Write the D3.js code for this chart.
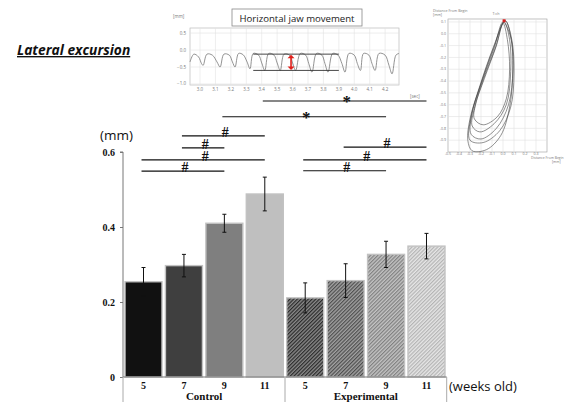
<!DOCTYPE html>
<html>
<head>
<meta charset="utf-8">
<script src="https://cdnjs.cloudflare.com/ajax/libs/d3/7.8.5/d3.min.js"></script>
<style>
  body { margin: 0; background: #fff; }
  svg { display: block; }
</style>
</head>
<body>
<svg class="chart"></svg>
<script>
// main bar chart values
var groups = ["Control", "Experimental"];
var weeks = ["5", "7", "9", "11"];
var controlMean = [0.254, 0.297, 0.410, 0.488];
var controlErr = [0.038, 0.030, 0.024, 0.045];
var expMean = [0.211, 0.257, 0.327, 0.349];
var expErr = [0.040, 0.045, 0.035, 0.034];
var yTicks = [0, 0.2, 0.4, 0.6];

// significance brackets: [from bar, to bar, symbol, height in mm]
var comparisons = [
  [3, 7, "*", 0.736],
  [2, 6, "*", 0.694],
  [1, 3, "#", 0.643],
  [1, 2, "#", 0.611],
  [0, 3, "#", 0.579],
  [0, 2, "#", 0.549],
  [5, 7, "#", 0.613],
  [4, 7, "#", 0.579],
  [4, 6, "#", 0.550]
];

// inset 1: horizontal jaw movement trace [sec, mm]
var jawTrace = [
  [2.935,-0.35],[2.96,-0.12],[2.99,-0.2],[3.01,-0.4],[3.02,-0.45],
  [3.045,-0.12],[3.08,-0.15],[3.11,-0.35],[3.13,-0.5],
  [3.155,-0.12],[3.19,-0.15],[3.21,-0.35],[3.227,-0.5],
  [3.25,-0.1],[3.28,-0.14],[3.305,-0.35],[3.324,-0.55],
  [3.345,-0.1],[3.38,-0.15],[3.40,-0.38],[3.42,-0.6],
  [3.445,-0.1],[3.48,-0.15],[3.50,-0.38],[3.52,-0.6],
  [3.545,-0.12],[3.58,-0.15],[3.60,-0.38],[3.62,-0.6],
  [3.65,-0.1],[3.685,-0.15],[3.705,-0.4],[3.726,-0.65],
  [3.755,-0.1],[3.79,-0.15],[3.81,-0.4],[3.83,-0.65],
  [3.86,-0.1],[3.895,-0.15],[3.92,-0.4],[3.94,-0.65],
  [3.965,-0.1],[4.0,-0.15],[4.02,-0.4],[4.04,-0.6],
  [4.06,-0.1],[4.095,-0.15],[4.115,-0.4],[4.135,-0.6],
  [4.16,-0.1],[4.20,-0.15],[4.225,-0.45],[4.245,-0.7],
  [4.27,-0.15],[4.29,-0.1]
];
var jawTimeTicks = ["3.0","3.1","3.2","3.3","3.4","3.5","3.6","3.7","3.8","3.9","4.0","4.1","4.2"];
var jawValueTicks = [0.5, 0.0, -0.5, -1.0];
var amplitude = {top: -0.12, bottom: -0.6, t0: 3.345, t1: 3.9, arrowT: 3.59};

// inset 2: chewing path loops [x mm, y mm]
var pathLoops = [
  [[0.0,0.09],[0.04,-0.05],[0.06,-0.3],[0.03,-0.55],[-0.05,-0.7],[-0.18,-0.77],[-0.26,-0.72],[-0.25,-0.6],[-0.17,-0.38],[-0.06,-0.1]],
  [[0.01,0.1],[0.06,-0.05],[0.07,-0.32],[0.03,-0.6],[-0.08,-0.76],[-0.21,-0.83],[-0.28,-0.78],[-0.26,-0.63],[-0.18,-0.39],[-0.07,-0.12]],
  [[0.0,0.1],[0.07,-0.03],[0.09,-0.3],[0.05,-0.6],[-0.06,-0.8],[-0.2,-0.89],[-0.29,-0.85],[-0.28,-0.67],[-0.19,-0.4],[-0.08,-0.12]],
  [[0.02,0.11],[0.08,-0.05],[0.1,-0.34],[0.07,-0.62],[-0.03,-0.82],[-0.18,-0.92],[-0.3,-0.9],[-0.29,-0.7],[-0.2,-0.42],[-0.09,-0.13]],
  [[0.02,0.11],[0.07,-0.02],[0.09,-0.3],[0.06,-0.62],[-0.02,-0.86],[-0.15,-0.98],[-0.28,-0.99],[-0.32,-0.9],[-0.3,-0.72],[-0.21,-0.44],[-0.09,-0.12]]
];
var pathXTicks = ["-0.5","-0.4","-0.3","-0.2","-0.1","0.0","0.1","0.2","0.3"];
var pathYTicks = ["0.1","0.0","-0.1","-0.2","-0.3","-0.4","-0.5","-0.6","-0.7","-0.8","-0.9"];
var pathMarker = [0.01, 0.11];

var width = 568, height = 402;
var svg = d3.select(".chart").attr("width", width).attr("height", height);
var serif = "'Liberation Serif', 'Times New Roman', serif";
var sans = "'Open Sans', sans-serif";

// ---------- title ----------
svg.append("text")
    .attr("x", 17).attr("y", 55)
    .attr("font-family", sans)
    .attr("font-weight", "bold")
    .attr("font-style", "italic")
    .attr("font-size", 13.8)
    .attr("text-decoration", "underline")
    .attr("fill", "#111")
    .text("Lateral excursion");

// ---------- bar chart ----------
var bars = [];
groups.forEach(function(g, gi) {
    var m = gi === 0 ? controlMean : expMean;
    var e = gi === 0 ? controlErr : expErr;
    weeks.forEach(function(w, wi) {
        bars.push({key: g + w, group: gi, week: w, idx: wi, value: m[wi], err: e[wi]});
    });
});

var x = d3.scaleBand()
    .domain(bars.map(function(d) { return d.key; }))
    .range([123, 447])
    .paddingInner(0.085)
    .paddingOuter(0.05);

var y = d3.scaleLinear()
    .domain([0, 0.6])
    .range([377, 152]);

var defs = svg.append("defs");
var hatchBg = ["#8a8a8a", "#a2a2a2", "#c4c4c4", "#e6e6e6"];
var hatchFg = ["#2a2a2a", "#4e4e4e", "#808080", "#b4b4b4"];
hatchBg.forEach(function(bg, i) {
    var p = defs.append("pattern")
        .attr("id", "hatch" + i)
        .attr("patternUnits", "userSpaceOnUse")
        .attr("width", 2.6).attr("height", 2.6)
        .attr("patternTransform", "rotate(45)");
    p.append("rect").attr("width", 2.6).attr("height", 2.6).attr("fill", bg);
    p.append("line")
        .attr("x1", 0.6).attr("y1", 0).attr("x2", 0.6).attr("y2", 2.6)
        .attr("stroke", hatchFg[i]).attr("stroke-width", 1.2);
});
var solidFill = ["#111111", "#3f3f3f", "#7f7f7f", "#bfbfbf"];

var chart = svg.append("g");

chart.selectAll("rect.bar")
    .data(bars)
    .enter().append("rect")
    .attr("class", "bar")
    .attr("x", function(d) { return x(d.key); })
    .attr("width", x.bandwidth())
    .attr("y", function(d) { return y(d.value); })
    .attr("height", function(d) { return y(0) - y(d.value); })
    .attr("fill", function(d) { return d.group === 0 ? solidFill[d.idx] : "url(#hatch" + d.idx + ")"; })
    .attr("stroke", "#c2c2c2")
    .attr("stroke-width", 1.4);

// error bars
var errG = chart.selectAll("g.err")
    .data(bars)
    .enter().append("g")
    .attr("class", "err")
    .attr("stroke", "#111")
    .attr("stroke-width", 1);
errG.append("line")
    .attr("x1", function(d) { return x(d.key) + x.bandwidth() / 2; })
    .attr("x2", function(d) { return x(d.key) + x.bandwidth() / 2; })
    .attr("y1", function(d) { return y(d.value - d.err); })
    .attr("y2", function(d) { return y(d.value + d.err); });
[1, -1].forEach(function(s) {
    errG.append("line")
        .attr("x1", function(d) { return x(d.key) + x.bandwidth() / 2 - 2; })
        .attr("x2", function(d) { return x(d.key) + x.bandwidth() / 2 + 2; })
        .attr("y1", function(d) { return y(d.value + s * d.err); })
        .attr("y2", function(d) { return y(d.value + s * d.err); });
});

// y axis
var yAxis = chart.append("g")
    .attr("transform", "translate(123,0)")
    .call(d3.axisLeft(y).tickValues(yTicks).tickSize(3).tickPadding(5)
        .tickFormat(function(d) { return d === 0 ? "0" : d3.format(".1f")(d); }));
yAxis.select(".domain").attr("stroke", "#777").attr("d", "M-3," + y(0.6) + "H0V" + y(0));
yAxis.selectAll(".tick line").attr("stroke", "#777");
yAxis.selectAll(".tick text")
    .attr("font-family", serif).attr("font-weight", "bold").attr("font-size", 10).attr("fill", "#111");

// category axis (box with week and group labels)
var axisG = chart.append("g").attr("stroke", "#aaa").attr("stroke-width", 1);
var half = x.step() * x.paddingInner() / 2;
var fifthKey = bars[4].key, lastKey = bars[7].key;
axisG.append("line")
    .attr("x1", 123).attr("x2", x(lastKey) + x.bandwidth() + half)
    .attr("y1", y(0)).attr("y2", y(0))
    .attr("stroke", "#777");
[123, x(fifthKey) - half, x(lastKey) + x.bandwidth() + half].forEach(function(sx) {
    axisG.append("line")
        .attr("x1", sx).attr("x2", sx)
        .attr("y1", y(0)).attr("y2", height);
});

chart.selectAll("text.week")
    .data(bars)
    .enter().append("text")
    .attr("class", "week")
    .attr("x", function(d) { return x(d.key) + x.bandwidth() / 2; })
    .attr("y", 388.5)
    .attr("text-anchor", "middle")
    .attr("font-family", serif).attr("font-weight", "bold").attr("font-size", 10)
    .attr("fill", "#111")
    .text(function(d) { return d.week; });

chart.selectAll("text.group")
    .data(groups)
    .enter().append("text")
    .attr("class", "group")
    .attr("x", function(d, i) {
        var a = bars[i * 4].key, b = bars[i * 4 + 3].key;
        return (x(a) + x(b) + x.bandwidth()) / 2;
    })
    .attr("y", 400)
    .attr("text-anchor", "middle")
    .attr("font-family", serif).attr("font-weight", "bold").attr("font-size", 11)
    .attr("fill", "#111")
    .text(function(d) { return d; });

svg.append("text")
    .attr("x", 100).attr("y", 140)
    .attr("font-family", sans).attr("font-size", 13.5).attr("fill", "#111")
    .text("(mm)");
svg.append("text")
    .attr("x", 449).attr("y", 391)
    .attr("font-family", sans).attr("font-size", 13).attr("fill", "#111")
    .text("(weeks old)");

// significance brackets
var sig = chart.selectAll("g.sig")
    .data(comparisons)
    .enter().append("g")
    .attr("class", "sig");
function barCenter(i) { return x(bars[i].key) + x.bandwidth() / 2; }
sig.append("line")
    .attr("x1", function(d) { return barCenter(d[0]) - 2; })
    .attr("x2", function(d) { return barCenter(d[1]); })
    .attr("y1", function(d) { return y(d[3]); })
    .attr("y2", function(d) { return y(d[3]); })
    .attr("stroke", "#111").attr("stroke-width", 1.2);
sig.append("text")
    .attr("x", function(d) { return (barCenter(d[0]) + barCenter(d[1])) / 2 + 1; })
    .attr("y", function(d) { return y(d[3]) + (d[2] === "*" ? 6 : 1); })
    .attr("text-anchor", "middle")
    .attr("font-family", serif).attr("font-weight", "bold")
    .attr("font-size", function(d) { return d[2] === "*" ? 17 : 14; })
    .attr("fill", "#111")
    .text(function(d) { return d[2]; });

// ---------- inset 1: horizontal jaw movement ----------
var jx = d3.scaleLinear().domain([2.935, 4.29]).range([190, 399]);
var jy = d3.scaleLinear().domain([-1.03, 0.65]).range([85, 28]);
var jaw = svg.append("g");
jaw.append("rect")
    .attr("x", 190).attr("y", 28).attr("width", 209).attr("height", 57)
    .attr("fill", "#fff").attr("stroke", "#bbb").attr("stroke-width", 0.7);
jaw.selectAll("line.vg")
    .data(jawTimeTicks)
    .enter().append("line")
    .attr("x1", function(d) { return jx(+d); }).attr("x2", function(d) { return jx(+d); })
    .attr("y1", 28).attr("y2", 85)
    .attr("stroke", "#e2e2e2").attr("stroke-width", 0.6);
jaw.selectAll("line.hg")
    .data(jawValueTicks)
    .enter().append("line")
    .attr("x1", 190).attr("x2", 399)
    .attr("y1", function(d) { return jy(d); }).attr("y2", function(d) { return jy(d); })
    .attr("stroke", "#e2e2e2").attr("stroke-width", 0.6);
jaw.selectAll("text.jyt")
    .data(jawValueTicks)
    .enter().append("text")
    .attr("x", 186).attr("y", function(d) { return jy(d) + 1.5; })
    .attr("text-anchor", "end")
    .attr("font-family", sans).attr("font-size", 4.5).attr("fill", "#777")
    .text(function(d) { return d3.format(".1f")(d); });
jaw.selectAll("text.jxt")
    .data(jawTimeTicks)
    .enter().append("text")
    .attr("x", function(d) { return jx(+d); }).attr("y", 91)
    .attr("text-anchor", "middle")
    .attr("font-family", sans).attr("font-size", 4.5).attr("fill", "#777")
    .text(function(d) { return d; });
jaw.append("text").attr("x", 173).attr("y", 18)
    .attr("font-family", sans).attr("font-size", 4.5).attr("fill", "#777").text("[mm]");
jaw.append("text").attr("x", 410).attr("y", 98)
    .attr("font-family", sans).attr("font-size", 4.5).attr("fill", "#777").text("[sec]");
jaw.append("path")
    .datum(jawTrace)
    .attr("fill", "none").attr("stroke", "#777").attr("stroke-width", 0.8)
    .attr("d", d3.line()
        .x(function(d) { return jx(d[0]); })
        .y(function(d) { return jy(d[1]); })
        .curve(d3.curveCatmullRom.alpha(0.5)));
[amplitude.top, amplitude.bottom].forEach(function(v) {
    jaw.append("line")
        .attr("x1", jx(amplitude.t0)).attr("x2", jx(amplitude.t1))
        .attr("y1", jy(v)).attr("y2", jy(v))
        .attr("stroke", "#333").attr("stroke-width", 0.9);
});
var ax = jx(amplitude.arrowT), ay1 = jy(amplitude.top), ay2 = jy(amplitude.bottom);
jaw.append("line")
    .attr("x1", ax).attr("x2", ax).attr("y1", ay1 + 3).attr("y2", ay2 - 3)
    .attr("stroke", "#e0201b").attr("stroke-width", 1.6);
jaw.append("path")
    .attr("d", "M" + (ax - 3.5) + "," + (ay1 + 4) + "L" + ax + "," + (ay1 + 0.5) + "L" + (ax + 3.5) + "," + (ay1 + 4) + "Z" +
               "M" + (ax - 3.5) + "," + (ay2 - 4) + "L" + ax + "," + (ay2 - 0.5) + "L" + (ax + 3.5) + "," + (ay2 - 4) + "Z")
    .attr("fill", "#e0201b");
jaw.append("rect")
    .attr("x", 232).attr("y", 9).attr("width", 130).attr("height", 17)
    .attr("fill", "#fff").attr("stroke", "#888").attr("stroke-width", 0.8);
jaw.append("text")
    .attr("x", 297).attr("y", 21.5)
    .attr("text-anchor", "middle")
    .attr("font-family", sans).attr("font-size", 9.6).attr("fill", "#222")
    .text("Horizontal jaw movement");

// ---------- inset 2: chewing path ----------
var px = d3.scaleLinear().domain([-0.5, 0.4]).range([448, 547]);
var py = d3.scaleLinear().domain([-1.0, 0.125]).range([152, 19]);
var pth = svg.append("g");
pth.append("rect")
    .attr("x", 448).attr("y", 19).attr("width", 99).attr("height", 133)
    .attr("fill", "#fff").attr("stroke", "#999").attr("stroke-width", 0.6);
pth.selectAll("line.vg")
    .data(pathXTicks)
    .enter().append("line")
    .attr("x1", function(d) { return px(+d); }).attr("x2", function(d) { return px(+d); })
    .attr("y1", 19).attr("y2", 152)
    .attr("stroke", "#e0e0e0").attr("stroke-width", 0.6);
pth.selectAll("line.hg")
    .data(pathYTicks)
    .enter().append("line")
    .attr("x1", 448).attr("x2", 547)
    .attr("y1", function(d) { return py(+d); }).attr("y2", function(d) { return py(+d); })
    .attr("stroke", "#e0e0e0").attr("stroke-width", 0.6);
pth.selectAll("text.pyt")
    .data(pathYTicks)
    .enter().append("text")
    .attr("x", 446).attr("y", function(d) { return py(+d) + 1.2; })
    .attr("text-anchor", "end")
    .attr("font-family", sans).attr("font-size", 3.6).attr("fill", "#777")
    .text(function(d) { return d; });
pth.selectAll("text.pxt")
    .data(pathXTicks)
    .enter().append("text")
    .attr("x", function(d) { return px(+d); }).attr("y", 155)
    .attr("text-anchor", "middle")
    .attr("font-family", sans).attr("font-size", 3.6).attr("fill", "#777")
    .text(function(d) { return d; });
pth.append("text").attr("x", 433).attr("y", 12)
    .attr("font-family", sans).attr("font-size", 3.6).attr("fill", "#777").text("Distance From Begin");
pth.append("text").attr("x", 433).attr("y", 16)
    .attr("font-family", sans).attr("font-size", 3.6).attr("fill", "#777").text("[mm]");
pth.append("text").attr("x", 496).attr("y", 15).attr("text-anchor", "middle")
    .attr("font-family", sans).attr("font-size", 3.6).attr("fill", "#777").text("T:ch");
pth.append("text").attr("x", 531).attr("y", 159)
    .attr("font-family", sans).attr("font-size", 3.4).attr("fill", "#777").text("Distance From Begin");
pth.append("text").attr("x", 552).attr("y", 163)
    .attr("font-family", sans).attr("font-size", 3.4).attr("fill", "#777").text("[mm]");
pth.selectAll("path.loop")
    .data(pathLoops)
    .enter().append("path")
    .attr("class", "loop")
    .attr("fill", "none").attr("stroke", "#444").attr("stroke-width", 0.6)
    .attr("d", d3.line()
        .x(function(d) { return px(d[0]); })
        .y(function(d) { return py(d[1]); })
        .curve(d3.curveCatmullRomClosed.alpha(0.5)));
pth.append("rect")
    .attr("x", px(pathMarker[0]) - 1.5).attr("y", py(pathMarker[1]) - 1.5)
    .attr("width", 3).attr("height", 3)
    .attr("fill", "#d62020");
</script>
</body>
</html>
